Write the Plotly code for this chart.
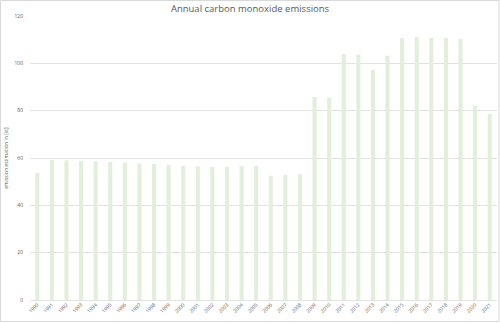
import plotly.graph_objects as go

years = [str(y) for y in range(1990, 2022)]
emissions = [53.8, 59.2, 59.0, 58.7, 58.6, 58.3, 58.0, 57.7, 57.5, 57.0,
             56.7, 56.5, 56.2, 56.2, 56.5, 56.7, 52.5, 52.8, 53.2, 85.8,
             85.6, 103.9, 103.7, 97.3, 103.2, 110.7, 111.1, 110.7, 110.7, 110.3,
             82.0, 78.6]
y_ticks = [0, 20, 40, 60, 80, 100, 120]

fig = go.Figure(go.Bar(x=years, y=emissions, marker_color="#e2efda",
                       marker_line_width=0, width=0.28))

fig.update_layout(
    width=500, height=323,
    margin=dict(l=30, r=3, t=16, b=23),
    paper_bgcolor="white", plot_bgcolor="white",
    font=dict(family="Open Sans", color="#595959"),
    title=dict(text="Annual carbon monoxide emissions", x=0.5, xanchor="center",
               y=1 - 9 / 323, yanchor="middle",
               font=dict(size=9.5, color="#595959")),
    showlegend=False,
    shapes=[dict(type="rect", xref="paper", yref="paper",
                 x0=-29.5 / 467, x1=1 + 2 / 467, y0=-21.5 / 284, y1=1 + 15.5 / 284,
                 line=dict(color="#d9d9d9", width=1), layer="below")],
)
fig.update_xaxes(type="category", tickangle=-45, tickfont=dict(size=5, color="#595959"),
                 showgrid=False, showline=False, ticks="", ticklen=0)
fig.update_yaxes(range=[0, 120], tickvals=y_ticks, showgrid=True, gridcolor="#e3e3e3",
                 gridwidth=1, zeroline=True, zerolinecolor="#e3e3e3", zerolinewidth=1,
                 tickfont=dict(size=5, color="#595959"), ticks="", ticklabelstandoff=6,
                 title=dict(text="emission estimation in [kt]", font=dict(size=5, color="#595959"),
                            standoff=5))

fig.write_html("out.html")
